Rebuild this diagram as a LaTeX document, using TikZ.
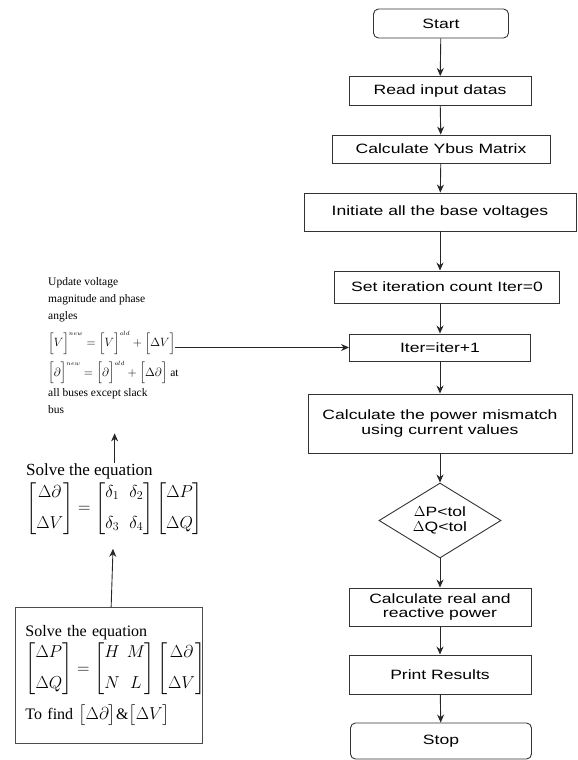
\documentclass[tikz,border=0pt]{standalone}
\usepackage{fontspec}
\setmainfont{Liberation Serif}
\newfontfamily\flowfont{Liberation Sans}[FakeStretch=1.3]
\usepackage{amsmath}
\usetikzlibrary{shapes.geometric,arrows.meta}

\begin{document}
\begin{tikzpicture}[
    x=1pt,y=-1pt,
    every node/.style={inner sep=0pt},
    flowbox/.style={draw=black!80,line width=0.9pt,align=center,
        font={\flowfont\fontsize{13.5}{14.8}\selectfont}},
    termbox/.style={flowbox,rounded corners=5pt},
    testbox/.style={flowbox,diamond,aspect=1.6},
    flow/.style={-{Stealth[length=8pt,width=7pt]},line width=0.9pt,black!85},
    smalltext/.style={align=left,font={\fontsize{11.5}{17}\selectfont}},
    bigtext/.style={align=left,font={\fontsize{17}{21}\selectfont}},
    ]

    % Page
    \useasboundingbox (0,0) rectangle (578,760);

    % Main column
    \node[termbox,minimum width=135pt,minimum height=29pt] (start) at (441,23.5) {Start};
    \node[flowbox,minimum width=182pt,minimum height=29pt] (read) at (440,91) {Read input datas};
    \node[flowbox,minimum width=218pt,minimum height=28pt] (ybus) at (441,149) {Calculate Ybus Matrix};
    \node[flowbox,minimum width=272pt,minimum height=38pt] (init) at (440,212) {Initiate all the base voltages};
    \node[flowbox,minimum width=225pt,minimum height=32pt] (setit) at (447,287) {Set iteration count Iter=0};
    \node[flowbox,minimum width=181pt,minimum height=27pt] (iter) at (440,347.5) {Iter=iter+1};
    \node[flowbox,minimum width=264pt,minimum height=59pt] (mism) at (440,423.5) {Calculate the power mismatch\\ using current values};
    \node[testbox,minimum width=122pt,minimum height=75pt] (dec) at (440,520.5) {$\Delta$P<tol\\ $\Delta$Q<tol};
    \node[flowbox,minimum width=182pt,minimum height=38pt] (real) at (440,607) {Calculate real and\\ reactive power};
    \node[flowbox,minimum width=182pt,minimum height=39pt] (print) at (440,674.5) {Print Results};
    \node[termbox,minimum width=181pt,minimum height=36pt] (stop) at (441,741) {Stop};

    % Main arrows
    \draw[flow] (start) -- (read);
    \draw[flow] (read) -- (ybus);
    \draw[flow] (ybus) -- (init);
    \draw[flow] (init) -- (init |- setit.north);
    \draw[flow] (setit.south -| iter) -- (iter);
    \draw[flow] (iter) -- (mism);
    \draw[flow] (mism) -- (dec);
    \draw[flow] (dec) -- (real);
    \draw[flow] (real) -- (print);
    \draw[flow] (print) -- (stop);

    % Update step
    \node[smalltext,anchor=north west] (upd) at (48,277) {Update voltage\\ magnitude and phase\\ angles\\[9pt]
        $\Big[V\Big]^{\scriptscriptstyle new}=\Big[V\Big]^{\scriptscriptstyle old}+\Big[\Delta V\Big]$\\[6pt]
        $\Big[\partial\Big]^{\scriptscriptstyle new}=\Big[\partial\Big]^{\scriptscriptstyle old}+\Big[\Delta\partial\Big]$ at\\[3pt]
        all buses except slack\\ bus};

    % Correction equation
    \node[bigtext,anchor=north west] (solvemid) at (26,463) {Solve the equation\\[3pt]
        $\begin{bmatrix}\Delta\partial\\[10pt] \Delta V\end{bmatrix}=
         \begin{bmatrix}\delta_1 & \delta_2\\[10pt] \delta_3 & \delta_4\end{bmatrix}
         \begin{bmatrix}\Delta P\\[10pt] \Delta Q\end{bmatrix}$};

    % Jacobian box
    \node[draw=black!70,line width=0.9pt,anchor=north west,minimum width=187pt,minimum height=136pt,
        inner xsep=10pt,text width=167pt,align=left,font={\fontsize{16}{19}\selectfont}] (solvebox) at (15,607)
        {\setlength\arraycolsep{3.5pt}Solve the equation\\[2pt]
        \mbox{$\begin{bmatrix}\Delta P\\[12pt] \Delta Q\end{bmatrix}=
         \begin{bmatrix}H & M\\[12pt] N & L\end{bmatrix}
         \begin{bmatrix}\Delta\partial\\[12pt] \Delta V\end{bmatrix}$}\\[9pt]
        To find $\big[\Delta\partial\big]$\&$\big[\Delta V\big]$};

    % Left arrows
    \draw[flow,shorten >=14pt] (solvebox) -- (solvemid);
    \draw[flow,shorten >=20pt] (solvemid.north) -- (solvemid.north |- upd.south);
    \draw[flow] ([xshift=-4pt]upd.east |- iter.west) -- (iter.west);
\end{tikzpicture}
\end{document}
